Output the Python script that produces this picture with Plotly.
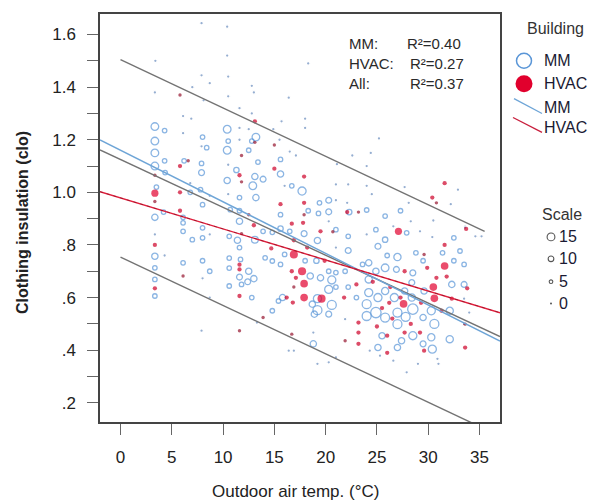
import plotly.graph_objects as go

# ---------------- data ----------------
mm_temp = [7.9,10.4,10.4,3.4,18.3,7.9,10.5,8.7,7.0,12.8,13.0,3.35,16.4,8.1,10.5,6.1,6.9,11.6,12.8,15.7,
           18.0,18.0,14.9,3.35,4.3,10.4,11.6,13.2,12.5,3.35,6.1,8.0,10.5,11.6,12.8,15.5,25.2,8.4,7.9,10.4,
           12.5,16.5,3.35,4.3,6.2,22.6,21.1,24.4,3.35,7.9,10.5,11.3,15.6,17.1,24.0,13.4,15.6,7.9,4.35,13.1,
           13.9,10.4,21.0,22.2,24.0,12.9,16.7,16.0,3.5,6.8,6.8,7.8,17.7,10.5,11.6,13.2,8.7,19.4,20.3,21.0,
           22.1,24.5,27.7,28.1,32.9,32.2,8.0,3.35,6.1,4.2,10.7,11.6,11.6,15.6,18.3,20.3,19.3,22.3,24.0,25.8,
           27.3,30.5,33.6,34.6,35.2,3.35,3.35,4.3,6.1,6.1,8.0,8.0,8.7,7.0,10.6,11.4,11.6,13.1,13.9,15.6,
           14.8,16.5,17.9,21.0,20.3,19.2,21.0,22.2,22.2,24.0,24.9,25.1,25.8,26.6,27.9,28.3,29.2,32.5,33.6,33.1,
           12.5,13.0,11.7,11.6,10.6,10.6,8.0,8.7,6.1,3.35,3.35,3.35,8.0,14.1,14.8,16.0,15.6,18.0,18.5,19.1,
           19.5,20.3,20.6,21.0,21.9,23.6,24.2,24.2,24.9,25.8,27.0,26.9,28.5,32.5,33.5,33.5,19.2,20.3,20.6,18.7,
           19.2,18.9,20.3,21.0,15.8,15.4,14.8,12.4,11.8,12.8,10.6,24.2,25.1,24.0,24.0,24.9,25.8,26.7,27.0,27.0,
           25.8,27.8,28.5,28.4,27.7,28.4,29.6,30.3,30.6,29.5,32.3,32.1,33.5,34.0,28.5,27.4,27.0,25.5,25.1,29.5,
           30.3,30.4,32.1,33.5,21.9,24.3,25.3,26.6,27.9,29.0,30.9,31.0,18.8,18.8,19.2,20.3,21.0,16.4,16.9,7.9,
           13.3,8.7,22.2,23.0,26.0,28.8,29.5,31.4,30.4]
mm_clo = [1.643,1.63,1.52,1.50,1.49,1.445,1.44,1.415,1.40,1.405,1.38,1.38,1.36,1.35,1.365,1.29,1.28,1.32,1.30,1.27,
          1.28,1.245,1.24,1.25,1.235,1.24,1.245,1.21,1.24,1.195,1.225,1.21,1.195,1.20,1.195,1.20,1.205,1.17,1.175,1.16,
          1.16,1.155,1.15,1.12,1.12,1.14,1.107,1.15,1.10,1.11,1.105,1.085,1.125,1.14,1.10,1.115,1.07,1.075,1.075,1.06,
          1.05,1.045,1.03,1.03,1.025,1.025,1.025,1.025,1.02,1.035,1.00,1.01,1.005,0.993,0.98,0.98,0.987,0.96,0.97,0.97,
          0.96,0.993,1.02,0.96,1.01,0.955,0.953,0.905,0.905,0.925,0.934,0.93,0.89,0.915,0.93,0.926,0.92,0.925,0.933,0.91,
          0.93,0.893,0.87,0.833,0.833,0.84,0.757,0.76,0.884,0.852,0.865,0.827,0.84,0.82,0.833,0.818,0.79,0.82,0.852,0.862,
          0.848,0.852,0.843,0.858,0.89,0.817,0.79,0.833,0.779,0.84,0.858,0.795,0.82,0.871,0.846,0.89,0.852,0.827,0.865,0.777,
          0.70,0.672,0.745,0.678,0.75,0.712,0.74,0.70,0.732,0.713,0.669,0.606,0.673,0.751,0.739,0.764,0.726,0.74,0.682,0.74,
          0.675,0.70,0.667,0.695,0.70,0.726,0.732,0.669,0.70,0.713,0.754,0.707,0.694,0.74,0.726,0.65,0.596,0.631,0.572,0.575,
          0.552,0.537,0.537,0.64,0.60,0.587,0.55,0.66,0.65,0.60,0.644,0.619,0.60,0.575,0.53,0.543,0.625,0.60,0.543,0.499,
          0.524,0.527,0.556,0.60,0.625,0.657,0.625,0.55,0.50,0.524,0.65,0.55,0.596,0.543,0.455,0.436,0.41,0.455,0.41,0.424,
          0.449,0.404,0.442,0.50,0.518,0.398,0.379,0.36,0.316,0.348,0.367,0.348,0.467,0.424,0.348,0.354,0.373,0.398,0.398,0.474,
          0.505,0.60,0.64,0.60,0.76,0.77,0.74,0.77,0.83]
mm_scale = [0,0,0,0,0,0,0,0,0,0,0,0,0,0,0,0,0,0,0,0,
            0,0,0,9,2,9,0,9,0,9,0,2,2,0,2,0,0,2,0,9,
            2,0,9,2,2,0,0,0,9,2,0,4,2,0,0,2,6,5,2,6,
            5,6,0,0,0,9,2,0,2,0,2,2,10,0,2,6,0,2,5,0,
            0,0,0,0,0,0,2,6,2,2,2,2,6,2,2,5,2,4,2,2,
            2,0,0,0,0,0,6,0,2,2,2,2,0,2,2,6,2,7,2,4,
            2,2,5,2,0,6,0,2,5,0,2,5,4,0,2,0,0,2,0,2,
            6,6,2,5,2,2,2,2,2,2,2,2,0,2,2,2,2,2,6,4,
            6,2,10,2,2,2,6,8,6,9,8,5,5,2,2,5,10,10,12,6,
            12,6,5,2,6,2,2,5,2,2,2,10,10,12,12,15,8,10,12,12,
            12,12,15,8,6,5,6,10,12,6,6,8,0,0,10,6,6,6,6,5,
            8,10,8,0,0,0,0,0,0,0,0,0,0,6,0,0,0,0,0,0,
            0,0,2,2,2,2,2,2,0]

hvac_temp = [5.8,13.1,13.1,15.0,6.6,11.8,5.8,15.0,3.35,11.6,17.9,11.8,5.8,3.35,15.6,17.9,30.4,30.8,31.6,3.35,
             5.8,12.5,17.9,22.1,23.2,33.7,3.35,11.8,13.0,16.7,16.9,17.8,19.5,27.1,31.6,16.9,11.6,11.6,6.1,3.35,
             14.7,16.7,17.1,17.7,27.7,29.6,29.9,31.6,30.8,17.9,17.9,19.6,16.2,16.8,16.9,11.6,26.2,27.6,30.5,30.6,
             33.8,32.3,33.6,33.6,23.2,23.2,23.2,26.0,26.0,27.7,29.2,29.6,21.9,16.7,11.6,13.9,24.6,25.5,26.3,27.3,
             28.3,29.3,31.3,31.8,25.0,26.5,19.9,20.7,18.2,21.8,23.0]
hvac_clo = [1.37,1.27,1.19,1.18,1.12,1.14,1.10,1.09,1.065,1.065,1.06,1.04,1.0,0.997,0.955,0.96,0.98,0.96,1.035,0.965,
            0.93,0.915,0.915,0.925,0.925,0.861,0.80,0.843,0.875,0.881,0.818,0.884,0.852,0.852,0.80,0.764,0.725,0.707,0.682,0.635,
            0.787,0.70,0.675,0.70,0.70,0.764,0.713,0.72,0.675,0.653,0.60,0.596,0.60,0.581,0.64,0.606,0.58,0.576,0.64,0.597,
            0.635,0.596,0.41,0.499,0.505,0.467,0.424,0.455,0.39,0.467,0.467,0.398,0.436,0.461,0.474,0.524,0.66,0.56,0.64,0.60,
            0.50,0.58,0.55,0.68,0.49,0.52,0.74,0.85,0.79,0.60,0.65]
hvac_scale = [0,2,0,0,0,0,2,2,0,2,2,0,2,8,2,2,2,0,2,0,
              2,0,0,2,0,2,2,0,2,2,2,2,2,8,2,10,2,2,0,2,
              2,2,2,10,2,0,2,9,2,9,9,10,2,2,0,2,2,9,9,9,
              2,2,2,0,2,2,2,2,2,2,2,2,0,0,0,0,2,2,2,2,
              2,2,2,2,2,2,2,0,2,2,2]

# regression lines: (intercept, slope)
fit_all = (1.125, -0.0182)
fit_mm = (1.160, -0.0196)
fit_hvac = (0.979, -0.0118)
band_upper = (1.505, -0.0184)
band_lower = (0.754, -0.0184)
r2_labels = ["MM:", "HVAC:", "All:"]
r2_values = ["R²=0.40", "R²=0.27", "R²=0.37"]
scale_levels = [15, 10, 5, 0]

X_MIN, X_MAX = -2, 37
Y_MIN, Y_MAX = 0.127, 1.678

def diam(n):
    return 3.6 + 0.45 * n

fig = go.Figure()

# MM points
fig.add_trace(go.Scatter(
    x=mm_temp, y=mm_clo, mode="markers", showlegend=False, hoverinfo="skip",
    marker=dict(
        symbol=["circle" if n == 0 else "circle-open" for n in mm_scale],
        size=[3.6 if n == 0 else diam(n) for n in mm_scale],
        color=["rgb(105,140,190)" if n == 0 else "rgb(90,150,215)" for n in mm_scale],
        line=dict(width=1.3),
    )))
# HVAC points
fig.add_trace(go.Scatter(
    x=hvac_temp, y=hvac_clo, mode="markers", showlegend=False, hoverinfo="skip",
    marker=dict(
        symbol="circle",
        size=[3.4 if n == 0 else (4.3 if n <= 2 else diam(n)) for n in hvac_scale],
        color=["rgb(150,20,45)" if n == 0 else ("rgb(205,0,40)" if n <= 2 else "rgb(225,0,45)")
               for n in hvac_scale],
        line=dict(width=0),
    )))

def line_xy(fit, x0, x1):
    a, b = fit
    return [x0, x1], [a + b * x0, a + b * x1]

grey = "rgb(115,115,115)"
for fit, x0, x1, col in [(band_upper, 0, 35.5, grey), (band_lower, 0, 35.5, grey),
                         (fit_all, X_MIN, X_MAX, grey),
                         (fit_mm, X_MIN, X_MAX, "rgb(110,165,215)"),
                         (fit_hvac, X_MIN, X_MAX, "rgb(225,30,60)")]:
    xs, ys = line_xy(fit, x0, x1)
    fig.add_trace(go.Scatter(x=xs, y=ys, mode="lines", showlegend=False, hoverinfo="skip",
                             line=dict(color=col, width=1.4)))
xs, ys = line_xy(fit_hvac, X_MIN, X_MAX)
fig.add_trace(go.Scatter(x=xs, y=ys, mode="lines", showlegend=False, hoverinfo="skip",
                         line=dict(color="rgba(90,10,20,0.55)", width=0.8, dash="3px,4px")))

W, H = 600, 503
L, R, T, B = 100, 100, 12, 81
pw, ph = W - L - R, H - T - B

def px(xp):
    return (xp - L) / pw

def py(yp):
    return 1 - (yp - T) / ph

font_main = "Liberation Sans, Arial, sans-serif"
txt = "#222"

ticks_y = [round(0.2 + 0.1 * i, 1) for i in range(15)]
ticktext_y = []
for v in ticks_y:
    if round(v * 10) % 2 == 0:
        s = f"{v:.1f}"
        ticktext_y.append(s[1:] if s.startswith("0") else s)
    else:
        ticktext_y.append("")

fig.update_layout(
    width=W, height=H, margin=dict(l=L, r=R, t=T, b=B),
    paper_bgcolor="white", plot_bgcolor="white",
    font=dict(family=font_main, color=txt, size=15),
    xaxis=dict(range=[X_MIN, X_MAX], tickvals=[0, 5, 10, 15, 20, 25, 30, 35],
               ticks="outside", ticklen=11, tickcolor="#666", tickwidth=1,
               showline=True, mirror=True, linecolor="#444", linewidth=1.5,
               showgrid=False, zeroline=False, tickfont=dict(size=17, color="#222"),
               ticklabelstandoff=8),
    yaxis=dict(range=[Y_MIN, Y_MAX], tickvals=ticks_y, ticktext=ticktext_y,
               ticks="outside", ticklen=11, tickcolor="#666", tickwidth=1,
               showline=True, mirror=True, linecolor="#444", linewidth=1.5,
               showgrid=False, zeroline=False, tickfont=dict(size=17, color="#222"),
               ticklabelstandoff=8),
)

def text_ann(x, y, text, size=15, color=txt, xanchor="center", angle=0):
    return dict(x=px(x), y=py(y), xref="paper", yref="paper", text=text, showarrow=False,
                xanchor=xanchor, yanchor="middle", textangle=angle,
                font=dict(size=size, color=color))

ann = []
ann.append(text_ann(295, 492, "Outdoor air temp. (°C)", size=17))
ann.append(text_ann(23, 222, "<b>Clothing insulation (clo)</b>", size=16, angle=-90))
for i, (lab, val) in enumerate(zip(r2_labels, r2_values)):
    yy = 42 + 20 * i
    ann.append(text_ann(347, yy, lab, size=15, color="#2a2a2a", xanchor="left"))
    ann.append(text_ann(405 if i == 0 else 408, yy, val, size=15, color="#2a2a2a", xanchor="left"))
# legend
ann.append(text_ann(555, 27, "Building", size=16, color="#333"))
for lab, yy in [("MM", 59), ("HVAC", 82), ("MM", 106), ("HVAC", 126)]:
    ann.append(text_ann(542, yy, lab, size=16, color="#1a1a33", xanchor="left"))
ann.append(text_ann(562, 213, "Scale", size=16, color="#333"))
scale_y = [236, 258, 281, 303]
for lev, yy in zip(scale_levels, scale_y):
    ann.append(text_ann(557, yy, str(lev), size=16, color="#1a1a33", xanchor="left"))
fig.update_layout(annotations=ann)

shapes = []
def circ(cx, cy, d, line_col, fill=None, lw=1.2):
    return dict(type="circle", xref="paper", yref="paper", xsizemode="pixel", ysizemode="pixel",
                xanchor=px(cx), yanchor=py(cy), x0=-d / 2, x1=d / 2, y0=-d / 2, y1=d / 2,
                line=dict(color=line_col, width=lw), fillcolor=fill if fill else "rgba(0,0,0,0)")
shapes.append(circ(524, 59, 15, "rgb(90,150,215)", lw=1.5))
shapes.append(circ(524, 82, 17, "rgb(225,0,45)", fill="rgb(225,0,45)", lw=0))
shapes.append(dict(type="line", xref="paper", yref="paper", x0=px(514), y0=py(97), x1=px(542), y1=py(112),
                   line=dict(color="rgb(110,165,215)", width=1.3)))
shapes.append(dict(type="line", xref="paper", yref="paper", x0=px(513), y0=py(116), x1=px(542), y1=py(131),
                   line=dict(color="rgb(200,30,60)", width=1.3)))
for lev, yy in zip(scale_levels, scale_y):
    d = 1.5 + lev * 0.42
    if lev == 0:
        shapes.append(circ(551, yy, 2, "#555", fill="#555", lw=0))
    else:
        shapes.append(circ(551, yy, d, "#555", lw=1.1))
fig.update_layout(shapes=shapes)

fig.write_html("out.html", config={"displayModeBar": False},
               post_script="document.body.style.margin='0';document.body.style.padding='0';")
